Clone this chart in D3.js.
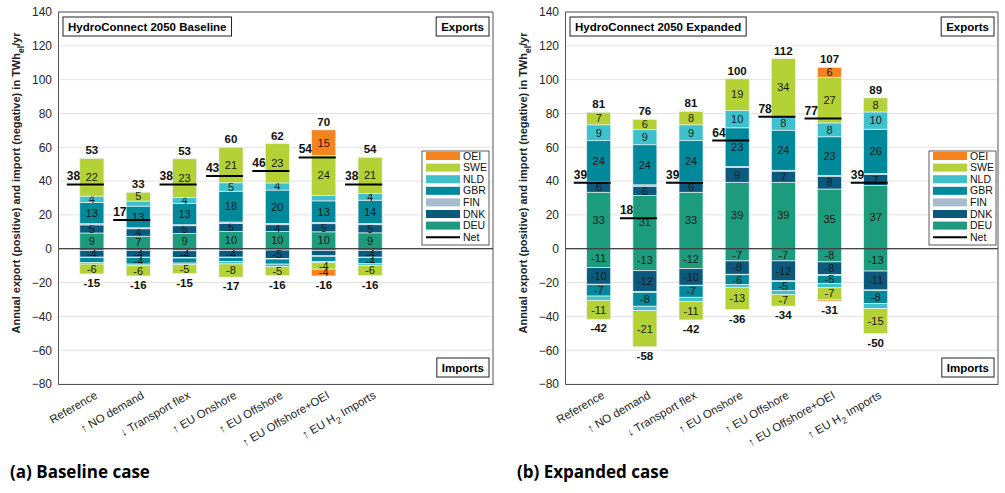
<!DOCTYPE html>
<html>
<head>
<meta charset="utf-8">
<script src="https://cdn.jsdelivr.net/npm/d3@7/dist/d3.min.js"></script>
<style>
  body { margin: 0; background: #fff; }
  text { font-family: "Liberation Sans", Arial, sans-serif; fill: #262626; }
</style>
</head>
<body>
<script>
// categories (x axis) and countries (stack order, bottom to top)
var categories = ["Reference", "\u2191 NO demand", "\u2193 Transport flex", "\u2191 EU Onshore",
                  "\u2191 EU Offshore", "\u2191 EU Offshore+OEI", "\u2191 EU H2 Imports"];
var countries = ["DEU", "DNK", "FIN", "GBR", "NLD", "SWE", "OEI"];
var colors = ["#1c9c7c", "#0b5a7e", "#a8bdca", "#00889b", "#3ec1cd", "#b4d235", "#f5841f"];
var legendOrder = ["OEI", "SWE", "NLD", "GBR", "FIN", "DNK", "DEU"];
var yTicks = [-80, -60, -40, -20, 0, 20, 40, 60, 80, 100, 120, 140];

// baseline: one row per category, columns in countries order (TWh_el/yr)
var baseExport = [
  [9.3, 4.8, 0.7, 12.6, 3.7, 22.3, 0],
  [7.4, 4.4, 0.6, 12.8, 3.0, 5.2, 0],
  [9.0, 4.6, 0.6, 12.6, 3.6, 22.8, 0],
  [10.2, 4.8, 0.8, 18.2, 5.0, 21.0, 0],
  [10.2, 4.0, 0.8, 19.7, 4.2, 23.2, 0],
  [10.0, 4.8, 0.7, 12.8, 3.2, 23.6, 15.2],
  [9.4, 4.8, 0.7, 13.8, 4.0, 21.3, 0]
];
var baseImport = [
  [-1.0, -4.0, -0.3, -2.8, -1.0, -5.8, 0],
  [-1.0, -4.0, -0.3, -3.8, -1.0, -6.0, 0],
  [-1.2, -4.0, -0.3, -3.0, -1.0, -5.2, 0],
  [-1.0, -4.0, -0.3, -2.2, -1.5, -7.8, 0],
  [-0.8, -5.0, -0.3, -3.0, -1.6, -5.2, 0],
  [-1.0, -3.2, -0.3, -3.0, -0.8, -3.8, -4.0],
  [-1.0, -4.0, -0.3, -3.6, -1.0, -6.0, 0]
];
var baseTop = [53, 33, 53, 60, 62, 70, 54];
var baseBottom = [-15, -16, -15, -17, -16, -16, -16];
var baseNet = [38, 17, 38, 43, 46, 54, 38];

// expanded
var expExport = [
  [33.4, 5.8, 0.3, 24.4, 9.4, 7.4, 0],
  [31.4, 5.6, 0.8, 23.7, 8.9, 6.1, 0],
  [33.4, 5.8, 0.3, 24.4, 9.4, 7.9, 0],
  [39.3, 8.9, 0.4, 22.9, 10.3, 18.7, 0],
  [39.3, 6.6, 0.5, 23.7, 8.3, 34.0, 0],
  [35.3, 7.6, 0.4, 22.9, 8.2, 27.0, 5.9],
  [37.4, 6.6, 0.4, 26.3, 10.2, 8.3, 0]
];
var expImport = [
  [-11.2, -9.8, -0.3, -6.7, -2.5, -11.2, 0],
  [-13.0, -12.4, -0.4, -8.2, -2.6, -21.4, 0],
  [-11.8, -9.8, -0.3, -6.8, -2.6, -10.8, 0],
  [-7.2, -7.9, -0.3, -5.8, -1.6, -13.2, 0],
  [-7.2, -11.8, -0.4, -5.2, -2.4, -6.9, 0],
  [-7.8, -7.6, -0.5, -4.6, -2.6, -6.9, -0.9],
  [-13.2, -11.2, -0.4, -7.6, -3.0, -14.8, 0]
];
var expTop = [81, 76, 81, 100, 112, 107, 89];
var expBottom = [-42, -58, -42, -36, -34, -31, -50];
var expNet = [39, 18, 39, 64, 78, 77, 39];

var color = d3.scaleOrdinal().domain(countries).range(colors);

var svg = d3.select("body").append("svg")
    .attr("width", 1005)
    .attr("height", 493);

function toRows(arr) {
  return arr.map(function(r, i) {
    var o = {idx: i + 1};
    countries.forEach(function(k, j) { o[k] = r[j]; });
    return o;
  });
}

function drawPanel(p) {
  var x = d3.scaleLinear().domain([0.27, 9.65]).range([p.left, p.left + p.width]);
  var y = d3.scaleLinear().domain([-80, 140]).range([384, 12]);
  var g = svg.append("g");

  // grid
  g.selectAll(".grid").data(yTicks).enter().append("line")
    .attr("x1", p.left).attr("x2", p.left + p.width)
    .attr("y1", function(d) { return y(d); }).attr("y2", function(d) { return y(d); })
    .attr("stroke", "#e3e3e3").attr("stroke-width", 1);

  var stack = d3.stack().keys(countries).offset(d3.stackOffsetDiverging);
  var series = [toRows(p.exp), toRows(p.imp)];
  var bw = 0.26;

  series.forEach(function(rows) {
    var layers = stack(rows);
    var lg = g.selectAll(null).data(layers).enter().append("g")
      .attr("fill", function(d) { return color(d.key); });
    lg.selectAll("rect").data(function(d) { return d; }).enter().append("rect")
      .attr("x", function(d) { return x(d.data.idx - bw); })
      .attr("width", x(1 + bw) - x(1 - bw))
      .attr("y", function(d) { return y(Math.max(d[0], d[1])); })
      .attr("height", function(d) { return Math.abs(y(d[0]) - y(d[1])); })
      .attr("stroke", "#e4f1f1").attr("stroke-width", 0.7);
    lg.selectAll("text").data(function(layer) {
        return layer.map(function(s) { return {s: s, v: s.data[layer.key]}; })
          .filter(function(d) { return Math.abs(Math.round(d.v)) >= 4; });
      }).enter().append("text")
      .attr("x", function(d) { return x(d.s.data.idx); })
      .attr("y", function(d) { return y((d.s[0] + d.s[1]) / 2); })
      .attr("dy", "0.35em")
      .attr("text-anchor", "middle")
      .style("font-size", "11px")
      .style("fill", "#1a1a1a")
      .text(function(d) { return String(Math.round(d.v)); });
  });

  // totals
  var posSum = p.exp.map(function(r) { return d3.sum(r); });
  var negSum = p.imp.map(function(r) { return d3.sum(r); });
  g.selectAll(".top").data(p.top).enter().append("text")
    .attr("x", function(d, i) { return x(i + 1); })
    .attr("y", function(d, i) { return y(posSum[i]) - 4; })
    .attr("text-anchor", "middle")
    .style("font-size", "11.5px").style("font-weight", "bold").style("fill", "#111")
    .text(function(d) { return d; });
  g.selectAll(".bot").data(p.bottom).enter().append("text")
    .attr("x", function(d, i) { return x(i + 1); })
    .attr("y", function(d, i) { return y(negSum[i]) + 13; })
    .attr("text-anchor", "middle")
    .style("font-size", "11.5px").style("font-weight", "bold").style("fill", "#111")
    .text(function(d) { return d; });

  // zero line
  g.append("line")
    .attr("x1", p.left).attr("x2", p.left + p.width)
    .attr("y1", y(0)).attr("y2", y(0))
    .attr("stroke", "#111").attr("stroke-width", 1.2);

  // net lines
  g.selectAll(".net").data(p.net).enter().append("line")
    .attr("x1", function(d, i) { return x(i + 1 - 0.54); })
    .attr("x2", function(d, i) { return x(i + 1 + bw); })
    .attr("y1", function(d) { return y(d); }).attr("y2", function(d) { return y(d); })
    .attr("stroke", "#000").attr("stroke-width", 2);
  g.selectAll(".netlab").data(p.net).enter().append("text")
    .attr("x", function(d, i) { return x(i + 1 - 0.54); })
    .attr("y", function(d) { return y(d) - 4; })
    .style("font-size", "12px").style("font-weight", "bold").style("fill", "#111")
    .text(function(d) { return d; });

  // axes
  var ya = g.append("g").attr("transform", "translate(" + p.left + ",0)")
    .call(d3.axisLeft(y).tickValues(yTicks).tickSize(0).tickPadding(6));
  ya.select(".domain").attr("stroke", "#555");
  ya.selectAll("text").style("font-size", "12px").attr("fill", "#262626");

  var xa = g.append("g").attr("transform", "translate(0,384)")
    .call(d3.axisBottom(x).tickValues(d3.range(1, 8)).tickSize(0)
      .tickFormat(function(d) { return categories[d - 1]; }));
  xa.select(".domain").attr("stroke", "#555");
  xa.selectAll("text")
    .attr("y", 0).attr("dy", "0.35em")
    .attr("transform", "translate(4,10) rotate(-30)")
    .style("text-anchor", "end")
    .style("font-size", "11.5px")
    .attr("fill", "#262626")
    .each(function(d) {
      var t = categories[d - 1];
      if (t.indexOf("H2") >= 0) {
        var el = d3.select(this).text(null);
        el.append("tspan").text(t.split("H2")[0] + "H");
        el.append("tspan").attr("dy", 4).style("font-size", "9px").text("2");
        el.append("tspan").attr("dy", -4).text(t.split("H2")[1]);
      }
    });

  // top and right border
  g.append("line").attr("x1", p.left).attr("x2", p.left + p.width)
    .attr("y1", 12).attr("y2", 12).attr("stroke", "#555");
  g.append("line").attr("x1", p.left + p.width).attr("x2", p.left + p.width)
    .attr("y1", 12).attr("y2", 384).attr("stroke", "#555");

  // title box
  var tb = g.append("g");
  var tt = tb.append("text").attr("x", p.left + 10).attr("y", 31)
    .style("font-size", "11.5px").style("font-weight", "bold").style("fill", "#000")
    .text(p.title);
  var tw = tt.node().getComputedTextLength();
  tb.insert("rect", "text").attr("x", p.left + 5).attr("y", 17)
    .attr("width", tw + 10).attr("height", 19)
    .attr("fill", "#fff").attr("stroke", "#222");

  // Exports / Imports boxes
  [["Exports", 17], ["Imports", 358]].forEach(function(b) {
    var bg = g.append("g");
    var t = bg.append("text").attr("y", b[1] + 14)
      .style("font-size", "11.5px").style("font-weight", "bold").style("fill", "#000")
      .text(b[0]);
    var w = t.node().getComputedTextLength();
    t.attr("x", p.left + p.width - 9 - w);
    bg.insert("rect", "text").attr("x", p.left + p.width - 14 - w).attr("y", b[1])
      .attr("width", w + 10).attr("height", 19)
      .attr("fill", "#fff").attr("stroke", "#222");
  });

  // legend
  var lx = p.left + 364, ly = 151;
  var leg = g.append("g").attr("transform", "translate(" + lx + "," + ly + ")");
  leg.append("rect").attr("width", 67).attr("height", 94)
    .attr("fill", "#fff").attr("stroke", "#333").attr("stroke-width", 0.8);
  legendOrder.forEach(function(k, j) {
    leg.append("rect").attr("x", 4).attr("y", 1 + j * 11.6)
      .attr("width", 34).attr("height", 8).attr("fill", color(k));
    leg.append("text").attr("x", 41).attr("y", 5 + j * 11.6).attr("dy", "0.35em")
      .style("font-size", "10.5px").style("fill", "#111").text(k);
  });
  leg.append("line").attr("x1", 4).attr("x2", 38)
    .attr("y1", 5 + 7 * 11.6).attr("y2", 5 + 7 * 11.6)
    .attr("stroke", "#000").attr("stroke-width", 2);
  leg.append("text").attr("x", 41).attr("y", 5 + 7 * 11.6).attr("dy", "0.35em")
    .style("font-size", "10.5px").style("fill", "#111").text("Net");

  // y label
  var yl = g.append("text")
    .attr("transform", "translate(" + (p.left - 38) + ",183) rotate(-90)")
    .attr("text-anchor", "middle")
    .style("font-size", "11px").style("font-weight", "bold").style("fill", "#222");
  yl.append("tspan").text("Annual export (positive) and import (negative) in TWh");
  yl.append("tspan").attr("dy", 4).style("font-size", "8.5px").text("el");
  yl.append("tspan").attr("dy", -4).text("/yr");

  // caption
  svg.append("text").attr("x", p.left - 48).attr("y", 478)
    .style("font-family", "Open Sans, sans-serif")
    .style("font-size", "17px").style("font-weight", "bold").style("fill", "#000")
    .text(p.caption);
}

drawPanel({left: 58, width: 435, exp: baseExport, imp: baseImport, top: baseTop,
           bottom: baseBottom, net: baseNet, title: "HydroConnect 2050 Baseline",
           caption: "(a) Baseline case"});
drawPanel({left: 565, width: 433, exp: expExport, imp: expImport, top: expTop,
           bottom: expBottom, net: expNet, title: "HydroConnect 2050 Expanded",
           caption: "(b) Expanded case"});
</script>
</body>
</html>
